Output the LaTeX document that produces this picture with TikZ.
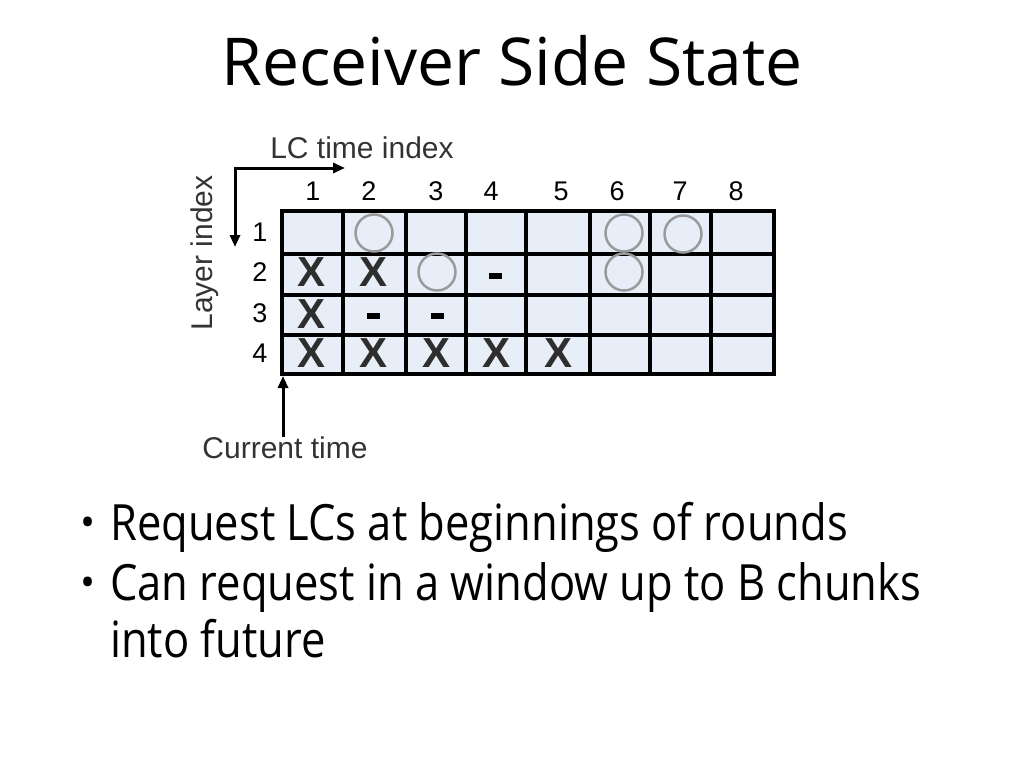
\documentclass[tikz,border=0pt]{standalone}
\usepackage{fontspec}
\setmainfont{Open Sans}
\newfontfamily\bulletfont[FakeStretch=0.87]{Open Sans}
\newfontfamily\gridfont{Liberation Sans}
\usetikzlibrary{arrows.meta}

\definecolor{cellfill}{HTML}{E8EEF8}
\definecolor{markgray}{HTML}{9A9A9A}
\definecolor{crossgray}{HTML}{2E2E2E}

\begin{document}
\begin{tikzpicture}[x=1pt, y=-1pt,
  gridline/.style={line width=3.5pt, black},
  lbl/.style={font=\gridfont\fontsize{30}{30}\selectfont, text=black!80, inner sep=0pt},
  idx/.style={font=\gridfont\fontsize{27}{27}\selectfont, inner sep=0pt},
  cross/.style={font=\gridfont\bfseries\fontsize{42}{42}\selectfont, text=crossgray, inner sep=0pt},
  ring/.style={circle, draw=markgray, line width=2.5pt, minimum size=37pt, inner sep=0pt},
  gap/.style={fill=black, minimum width=13pt, minimum height=6pt, inner sep=0pt},
  bul/.style={font=\bulletfont\fontsize{50}{50}\selectfont, anchor=base west, inner sep=0pt},
  tip/.style={-{Triangle[length=12pt, width=10pt]}, line width=3pt}]
\useasboundingbox (0,0) rectangle (1024,768);

% title
\node[font=\fontsize{66}{66}\selectfont, anchor=base, inner sep=0pt] (title) at (512,85) {Receiver Side State};

% grid
\fill[cellfill] (282,211) rectangle (774,374);
\foreach \x in {343,406,466,526,590,650,711}
  \draw[gridline] (\x,211) -- (\x,374);
\foreach \y in {254,295,335}
  \draw[gridline] (282,\y) -- (774,\y);
\draw[gridline] (282,211) rectangle (774,374);

% indices
\foreach \x [count=\c] in {313,369,436,491,561,617,680,736}
  \node[idx] (col\c) at (\x,191) {\c};
\foreach \y [count=\r] in {232,272,313,353}
  \node[idx] (row\r) at (260,\y) {\r};

% cell marks
\foreach \x/\y in {312/272,374/272,312/314,312/353,374/353,436/353,496/353,558/353}
  \node[cross] at (\x,\y) {X};
\foreach \x/\y in {374/233,437/272,624/233,624/272,683/234}
  \node[ring] at (\x,\y) {};
\foreach \x/\y in {495/276,373/316,437/316}
  \node[gap] at (\x,\y) {};

% axis labels
\node[lbl] (lctime) at (362,148) {LC time index};
\node[lbl, rotate=90] (layer) at (205,253) {Layer index};
\node[lbl] (curtime) at (285,448) {Current time};

\coordinate (lcright) at (345,168);
\coordinate (lcdown) at (235,247);
\coordinate (now) at (283,376);
\draw[tip, {Triangle[length=12pt, width=10pt]}-{Triangle[length=12pt, width=10pt]}] (lcdown) |- (lcright);
\draw[tip] (curtime.north -| now) -- (now);

% bullets
\node[bul] (b1) at (110,540) {Request LCs at beginnings of rounds};
\node[bul] (b2) at (110,600) {Can request in a window up to B chunks};
\node[bul] (b3) at (110,657) {into future};
\foreach \b in {b1,b2}
  \node[font=\fontsize{40}{40}\selectfont, inner sep=0pt] at ([xshift=-22pt]\b.west) {\textbullet};
\end{tikzpicture}
\end{document}
